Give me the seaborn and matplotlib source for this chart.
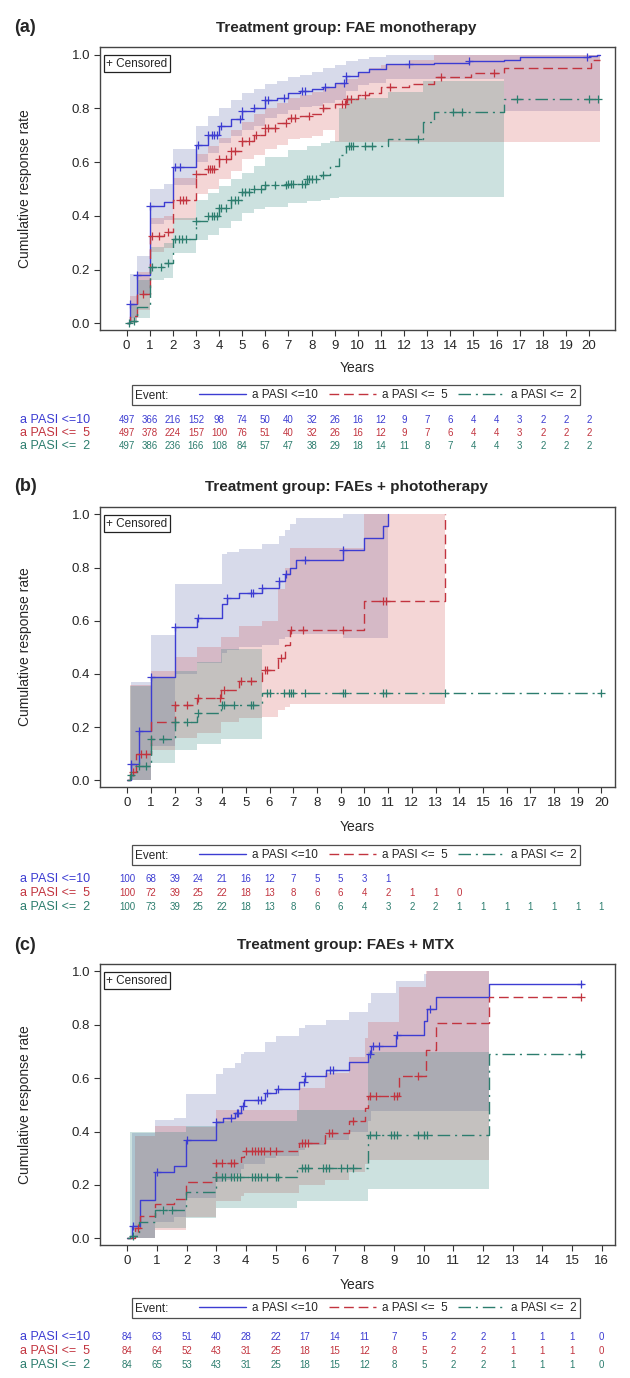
import matplotlib
matplotlib.use("Agg")
import matplotlib.pyplot as plt
import matplotlib.transforms as mtransforms
import matplotlib.text as mtext
from matplotlib.lines import Line2D
import numpy as np
import seaborn as sns

# ---------------- data ----------------
series_names = ["a PASI <=10", "a PASI <=  5", "a PASI <=  2"]
panel_letters = ["(a)", "(b)", "(c)"]
panel_titles = ["Treatment group: FAE monotherapy",
                "Treatment group: FAEs + phototherapy",
                "Treatment group: FAEs + MTX"]

# panel (a) FAE monotherapy
a_blue_t = [0, 0.15, 0.45, 1.0, 1.6, 2.0, 3.0, 3.5, 4.0, 4.5, 5.0, 5.5, 6.0, 6.5, 7.0, 7.5, 8.0, 8.5, 9.0, 9.5,
            10.0, 10.5, 11.2, 13.3, 14.8, 16.3, 17.0, 20.0, 20.35]
a_blue_v = [0, 0.073, 0.18, 0.435, 0.45, 0.58, 0.665, 0.70, 0.735, 0.76, 0.79, 0.80, 0.83, 0.84, 0.855, 0.865,
            0.87, 0.88, 0.895, 0.92, 0.935, 0.945, 0.963, 0.97, 0.975, 0.98, 0.99, 0.995, 1.0]
a_blue_hi = [0, 0.185, 0.25, 0.50, 0.52, 0.65, 0.735, 0.77, 0.80, 0.83, 0.855, 0.87, 0.89, 0.90, 0.915, 0.925,
             0.935, 0.95, 0.96, 0.975, 0.985, 0.99, 1.0, 1.0, 1.0, 1.0, 1.0, 1.0, 1.0]
a_blue_lo = [0, 0.02, 0.11, 0.37, 0.385, 0.515, 0.60, 0.635, 0.67, 0.695, 0.72, 0.735, 0.765, 0.78, 0.795, 0.805,
             0.81, 0.82, 0.83, 0.865, 0.885, 0.895, 0.91, 0.91, 0.91, 0.79, 0.79, 0.79, 0.79]
a_blue_cens = [0.15, 0.45, 1.0, 2.1, 2.3, 3.1, 3.5, 3.7, 3.8, 3.9, 4.1, 4.9, 5.0, 5.5, 6.0, 6.1, 6.8, 7.6, 7.7,
               8.6, 9.4, 9.5, 12.2, 14.8, 19.9]

a_red_t = [0, 0.15, 0.45, 1.0, 1.6, 2.0, 3.0, 3.5, 4.0, 4.5, 5.0, 5.5, 6.0, 6.5, 7.0, 7.5, 8.0, 8.5, 9.0, 9.5,
           10.0, 10.5, 11.0, 12.2, 13.3, 14.9, 16.3, 20.1]
a_red_v = [0, 0.026, 0.108, 0.325, 0.34, 0.46, 0.555, 0.575, 0.61, 0.64, 0.68, 0.70, 0.725, 0.745, 0.765, 0.77,
           0.78, 0.80, 0.815, 0.835, 0.85, 0.855, 0.88, 0.89, 0.915, 0.93, 0.95, 0.98]
a_red_hi = [0, 0.10, 0.19, 0.39, 0.40, 0.54, 0.63, 0.66, 0.69, 0.72, 0.75, 0.78, 0.80, 0.82, 0.84, 0.85,
            0.86, 0.875, 0.89, 0.91, 0.93, 0.95, 0.96, 0.98, 1.0, 1.0, 1.0, 1.0]
a_red_lo = [0, 0.0, 0.05, 0.265, 0.28, 0.385, 0.48, 0.50, 0.535, 0.565, 0.61, 0.625, 0.65, 0.665, 0.685, 0.69,
            0.695, 0.72, 0.675, 0.675, 0.675, 0.675, 0.675, 0.675, 0.675, 0.675, 0.675, 0.675]
a_red_cens = [0.7, 1.1, 1.4, 1.8, 2.3, 2.45, 2.55, 3.0, 3.5, 3.6, 3.7, 3.8, 4.0, 4.3, 4.5, 4.7, 5.0, 5.3, 5.6,
              6.0, 6.1, 6.4, 6.9, 7.1, 7.3, 7.9, 8.5, 9.3, 9.45, 9.55, 9.7, 10.3, 11.4, 13.6, 15.9]

a_teal_t = [0, 0.15, 0.45, 1.0, 1.6, 2.0, 3.0, 3.5, 4.0, 4.5, 5.0, 5.5, 6.0, 7.0, 7.8, 8.4, 8.8, 9.2, 9.5,
            11.3, 12.8, 13.3, 16.3]
a_teal_v = [0, 0.01, 0.06, 0.21, 0.225, 0.315, 0.38, 0.40, 0.43, 0.46, 0.49, 0.50, 0.515, 0.52, 0.535, 0.55,
            0.585, 0.625, 0.66, 0.685, 0.75, 0.785, 0.835]
a_teal_hi = [0, 0.07, 0.16, 0.285, 0.30, 0.39, 0.46, 0.485, 0.51, 0.535, 0.56, 0.585, 0.62, 0.645, 0.66, 0.67,
             0.68, 0.80, 0.84, 0.86, 0.90, 0.90]
a_teal_lo = [0, 0.0, 0.02, 0.16, 0.17, 0.26, 0.31, 0.33, 0.353, 0.38, 0.41, 0.425, 0.434, 0.447, 0.455, 0.46,
             0.465, 0.47, 0.47, 0.47, 0.47, 0.47]
a_teal_cens = [0.1, 0.3, 1.1, 1.5, 1.8, 2.1, 2.25, 2.4, 2.55, 3.0, 3.5, 3.7, 3.8, 3.9, 4.0, 4.1, 4.3, 4.5, 4.7,
               4.8, 5.0, 5.1, 5.3, 5.5, 5.8, 6.0, 6.4, 6.9, 7.0, 7.1, 7.2, 7.6, 7.7, 7.8, 7.9, 8.0, 8.2, 8.5,
               9.6, 9.7, 9.8, 10.3, 10.6, 12.6, 14.1, 14.5, 16.9, 20.0, 20.4]

a_ends = [20.45, 20.45, 20.45]        # last follow-up of each line
a_band_ends = [20.48, 20.48, 16.3]
a_risk_blue = [497, 366, 216, 152, 98, 74, 50, 40, 32, 26, 16, 12, 9, 7, 6, 4, 4, 3, 2, 2, 2]
a_risk_red = [497, 378, 224, 157, 100, 76, 51, 40, 32, 26, 16, 12, 9, 7, 6, 4, 4, 3, 2, 2, 2]
a_risk_teal = [497, 386, 236, 166, 108, 84, 57, 47, 38, 29, 18, 14, 11, 8, 7, 4, 4, 3, 2, 2, 2]

# panel (b) FAEs + phototherapy
b_blue_t = [0, 0.15, 0.49, 1.0, 2.0, 2.93, 3.98, 4.2, 4.7, 5.7, 6.4, 6.65, 6.85, 7.1, 9.1, 10.0, 10.8, 11.0]
b_blue_v = [0, 0.06, 0.185, 0.39, 0.575, 0.61, 0.665, 0.685, 0.705, 0.725, 0.75, 0.775, 0.80, 0.83, 0.865,
            0.91, 0.955, 1.0]
b_blue_hi = [0, 0.37, 0.37, 0.545, 0.74, 0.74, 0.85, 0.857, 0.87, 0.89, 0.92, 0.94, 0.965, 0.985, 1.0, 1.0, 1.0]
b_blue_lo = [0, 0.0, 0.0, 0.13, 0.40, 0.44, 0.48, 0.49, 0.50, 0.51, 0.53, 0.54, 0.55, 0.55, 0.535, 0.535, 0.535]
b_blue_cens = [0.15, 0.5, 1.0, 2.0, 3.0, 4.2, 5.2, 5.3, 5.7, 6.4, 6.7, 7.5, 9.1]

b_red_t = [0, 0.1, 0.35, 1.0, 2.0, 2.95, 3.95, 4.7, 5.7, 6.36, 6.65, 6.85, 10.0, 13.4]
b_red_v = [0, 0.03, 0.10, 0.22, 0.285, 0.31, 0.34, 0.375, 0.415, 0.46, 0.51, 0.565, 0.675, 1.0]
b_red_hi = [0, 0.36, 0.36, 0.41, 0.465, 0.50, 0.54, 0.58, 0.60, 0.72, 0.80, 0.875, 1.0]
b_red_lo = [0, 0.0, 0.0, 0.115, 0.16, 0.178, 0.22, 0.234, 0.24, 0.265, 0.275, 0.286, 0.286]
b_red_cens = [0.25, 0.6, 0.8, 2.0, 2.5, 3.0, 3.9, 4.1, 4.8, 5.2, 5.8, 5.9, 6.5, 6.9, 7.4, 9.1, 10.8, 10.9]

b_teal_t = [0, 0.1, 0.4, 1.0, 2.0, 2.95, 3.95, 5.7]
b_teal_v = [0, 0.02, 0.055, 0.155, 0.22, 0.255, 0.285, 0.33]
b_teal_hi = [0, 0.355, 0.355, 0.39, 0.41, 0.445, 0.495]
b_teal_lo = [0, 0.0, 0.0, 0.066, 0.116, 0.135, 0.157]
b_teal_cens = [0.15, 0.5, 0.8, 1.0, 1.5, 2.0, 2.5, 3.0, 4.0, 4.1, 4.5, 5.2, 5.3, 5.9, 6.0, 6.6, 6.8, 6.9, 7.0,
               7.5, 9.1, 9.2, 10.8, 10.9, 13.4, 20.0]

b_ends = [11.0, 13.4, 20.0]
b_band_ends = [11.0, 13.4, 5.7]
b_risk_blue = [100, 68, 39, 24, 21, 16, 12, 7, 5, 5, 3, 1]
b_risk_red = [100, 72, 39, 25, 22, 18, 13, 8, 6, 6, 4, 2, 1, 1, 0]
b_risk_teal = [100, 73, 39, 25, 22, 18, 13, 8, 6, 6, 4, 3, 2, 2, 1, 1, 1, 1, 1, 1, 1]

# panel (c) FAEs + MTX
c_blue_t = [0, 0.15, 0.42, 0.95, 1.57, 1.98, 3.0, 3.23, 3.64, 3.84, 3.95, 4.65, 5.03, 5.8, 6.0, 6.7, 7.49, 8.12,
            8.23, 9.05, 10.0, 10.12, 10.4, 12.2]
c_blue_v = [0, 0.045, 0.145, 0.25, 0.27, 0.37, 0.435, 0.45, 0.47, 0.495, 0.52, 0.545, 0.56, 0.585, 0.607,
            0.632, 0.66, 0.69, 0.72, 0.763, 0.813, 0.86, 0.906, 0.953]
c_blue_hi = [0, 0.395, 0.395, 0.443, 0.45, 0.54, 0.617, 0.64, 0.657, 0.69, 0.70, 0.735, 0.757, 0.79, 0.80,
             0.82, 0.85, 0.88, 0.92, 0.963, 0.99, 1.0, 1.0]
c_blue_lo = [0, 0.0, 0.0, 0.06, 0.08, 0.15, 0.21, 0.22, 0.24, 0.26, 0.28, 0.30, 0.31, 0.33, 0.35, 0.37, 0.40,
             0.44, 0.476, 0.476, 0.476, 0.476, 0.476]
c_blue_cens = [0.2, 1.0, 2.0, 3.0, 3.5, 3.7, 3.75, 3.9, 4.4, 4.5, 4.7, 5.1, 5.95, 6.0, 6.85, 6.95, 8.2, 8.3,
               8.5, 9.1, 10.2, 15.3]

c_red_t = [0, 0.25, 0.42, 0.95, 1.57, 1.98, 3.0, 3.84, 3.95, 5.8, 6.67, 7.49, 8.03, 8.13, 9.18, 10.06, 10.4, 12.2]
c_red_v = [0, 0.04, 0.085, 0.13, 0.146, 0.21, 0.283, 0.305, 0.327, 0.358, 0.395, 0.44, 0.49, 0.532, 0.61,
           0.707, 0.807, 0.903]
c_red_hi = [0, 0.385, 0.385, 0.42, 0.42, 0.418, 0.48, 0.48, 0.48, 0.564, 0.62, 0.68, 0.75, 0.81, 0.94, 1.0, 1.0]
c_red_lo = [0, 0.0, 0.0, 0.03, 0.03, 0.08, 0.14, 0.16, 0.17, 0.20, 0.22, 0.25, 0.28, 0.295, 0.295, 0.295, 0.295]
c_red_cens = [0.35, 3.0, 3.2, 3.5, 3.6, 4.0, 4.2, 4.3, 4.4, 4.5, 4.6, 4.8, 5.0, 5.9, 6.0, 6.1, 6.8, 6.9, 7.6,
              8.2, 8.4, 9.0, 9.1, 9.8, 15.3]

c_teal_t = [0, 0.1, 0.4, 0.95, 1.98, 3.0, 5.73, 8.12, 12.2]
c_teal_v = [0, 0.01, 0.06, 0.105, 0.173, 0.231, 0.264, 0.387, 0.692]
c_teal_hi = [0, 0.40, 0.40, 0.40, 0.42, 0.44, 0.48, 0.70]
c_teal_lo = [0, 0.0, 0.0, 0.04, 0.077, 0.115, 0.14, 0.183]
c_teal_cens = [0.2, 1.2, 1.5, 3.0, 3.2, 3.3, 3.5, 3.6, 3.7, 3.8, 4.2, 4.3, 4.4, 4.5, 4.7, 5.0, 5.1, 5.9, 6.0,
               6.1, 6.6, 6.7, 6.8, 7.2, 7.4, 7.6, 8.2, 8.4, 8.9, 9.0, 9.1, 9.8, 10.0, 10.1, 15.3]

c_ends = [15.36, 15.36, 15.36]
c_band_ends = [12.2, 12.2, 12.2]
c_risk_blue = [84, 63, 51, 40, 28, 22, 17, 14, 11, 7, 5, 2, 2, 1, 1, 1, 0]
c_risk_red = [84, 64, 52, 43, 31, 25, 18, 15, 12, 8, 5, 2, 2, 1, 1, 1, 0]
c_risk_teal = [84, 65, 53, 43, 31, 25, 18, 15, 12, 8, 5, 2, 2, 1, 1, 1, 0]

# ---------------- style ----------------
sns.set_theme(style="white")
plt.rcParams["font.family"] = ["Liberation Sans", "DejaVu Sans"]
NARROW = ["Liberation Sans Narrow", "Liberation Sans", "DejaVu Sans"]

line_colors = ["#3c3cd2", "#c2343f", "#2c7d6e"]
fill_colors = ["#4a5aa0", "#d04848", "#1a7a70"]
line_styles = ["-", (0, (7, 3.5)), (0, (9, 3.5, 1.5, 3.5))]

fig = plt.figure(figsize=(6.3, 13.78), dpi=100)
H = 1378.0
W = 630.0


def step_value(t, v, x):
    t = np.asarray(t, float)
    idx = np.searchsorted(t, np.asarray(x, float), side="right") - 1
    return np.asarray(v, float)[idx]


class EventHandler:
    # draws the word "Event:" in place of a legend handle
    def legend_artist(self, legend, orig_handle, fontsize, handlebox):
        txt = mtext.Text(0, -0.07 * fontsize, "Event:", fontsize=fontsize, va="baseline", ha="left")
        handlebox.add_artist(txt)
        return txt


class EventKey:
    pass


panels = [
    dict(top=47, bottom=330, title_y=28, xmax=20, xlim=(-1.15, 21.12),
         curves=[(a_blue_t, a_blue_v, a_blue_lo, a_blue_hi, a_blue_cens),
                 (a_red_t, a_red_v, a_red_lo, a_red_hi, a_red_cens),
                 (a_teal_t, a_teal_v, a_teal_lo, a_teal_hi, a_teal_cens)],
         ends=a_ends, band_ends=a_band_ends,
         risk=[a_risk_blue, a_risk_red, a_risk_teal],
         years_y=368, legend_y=395, rows_y=[420, 433, 446]),
    dict(top=507, bottom=787, title_y=487, xmax=20, xlim=(-1.15, 20.57),
         curves=[(b_blue_t, b_blue_v, b_blue_lo, b_blue_hi, b_blue_cens),
                 (b_red_t, b_red_v, b_red_lo, b_red_hi, b_red_cens),
                 (b_teal_t, b_teal_v, b_teal_lo, b_teal_hi, b_teal_cens)],
         ends=b_ends, band_ends=b_band_ends,
         risk=[b_risk_blue, b_risk_red, b_risk_teal],
         years_y=827, legend_y=855, rows_y=[879, 893, 907]),
    dict(top=964, bottom=1245, title_y=945, xmax=16, xlim=(-0.92, 16.45),
         curves=[(c_blue_t, c_blue_v, c_blue_lo, c_blue_hi, c_blue_cens),
                 (c_red_t, c_red_v, c_red_lo, c_red_hi, c_red_cens),
                 (c_teal_t, c_teal_v, c_teal_lo, c_teal_hi, c_teal_cens)],
         ends=c_ends, band_ends=c_band_ends,
         risk=[c_risk_blue, c_risk_red, c_risk_teal],
         years_y=1285, legend_y=1308, rows_y=[1337, 1351, 1365]),
]

for p_i, p in enumerate(panels):
    top, bot = p["top"], p["bottom"]
    ax_h = bot - top
    ax = fig.add_axes([100 / W, 1 - bot / H, 515 / W, ax_h / H])

    # confidence bands first
    for k, (t, v, lo, hi, cens) in enumerate(p["curves"]):
        n = len(hi)
        tb = np.append(np.asarray(t[:n], float), p["band_ends"][k])
        lob = np.append(lo, lo[-1])
        hib = np.append(hi, hi[-1])
        ax.fill_between(tb, lob, hib, step="post", color=fill_colors[k], alpha=0.22, lw=0, zorder=1)

    # step curves and censor marks
    for k, (t, v, lo, hi, cens) in enumerate(p["curves"]):
        tl = np.asarray(t, float)
        vl = np.asarray(v, float)
        if p["ends"][k] > tl[-1]:
            tl = np.append(tl, p["ends"][k])
            vl = np.append(vl, vl[-1])
        sns.lineplot(x=tl, y=vl, ax=ax, color=line_colors[k], lw=1.0, linestyle=line_styles[k],
                     drawstyle="steps-post", estimator=None, sort=False, zorder=3)
        cy = step_value(t, v, cens)
        sns.scatterplot(x=cens, y=cy, ax=ax, marker="+", color=line_colors[k], s=32,
                        linewidth=0.9, zorder=4)

    ax.set_xlim(*p["xlim"])
    ax.set_ylim(-0.025, 1.028)
    ax.set_xticks(range(0, p["xmax"] + 1))
    ax.set_yticks([0.0, 0.2, 0.4, 0.6, 0.8, 1.0])
    ax.set_yticklabels(["0.0", "0.2", "0.4", "0.6", "0.8", "1.0"])
    ax.tick_params(axis="both", which="major", labelsize=9.5, length=4, width=0.8,
                   direction="out", color="#333333", pad=3, bottom=True, left=True)
    for sp in ax.spines.values():
        sp.set_color("#444444")
        sp.set_linewidth(1.0)

    ax.set_xlabel("Years", fontsize=10)
    ax.xaxis.set_label_coords(0.5, (bot - p["years_y"]) / ax_h)
    ax.xaxis.label.set_va("center")
    ax.set_ylabel("Cumulative response rate", fontsize=10)
    ax.yaxis.set_label_coords((25 - 100) / 515, 0.5)
    ax.yaxis.label.set_va("center")

    # censored box
    ax.text(0.012, 0.962, "+ Censored", transform=ax.transAxes, ha="left", va="top", fontsize=8.5,
            bbox=dict(boxstyle="square,pad=0.22", facecolor="white", edgecolor="#222222", lw=0.9),
            zorder=6)

    # titles
    fig.text(346 / W, 1 - p["title_y"] / H, panel_titles[p_i], ha="center", va="center",
             fontsize=11, fontweight="bold")
    fig.text(14 / W, 1 - p["title_y"] / H, panel_letters[p_i], ha="left", va="center",
             fontsize=13, fontweight="bold")

    # legend
    handles = [EventKey()] + [Line2D([], [], color=line_colors[k], lw=1.0, linestyle=line_styles[k])
                              for k in range(3)]
    labels = [""] + series_names
    leg = ax.legend(handles, labels, handler_map={EventKey: EventHandler()}, ncol=4,
                    loc="center", bbox_to_anchor=(0.497, (bot - p["legend_y"]) / ax_h),
                    fontsize=8.5, handlelength=4.0, handletextpad=0.5, columnspacing=0.9,
                    borderpad=0.3, frameon=True, fancybox=False)
    leg.get_frame().set_edgecolor("#222222")
    leg.get_frame().set_linewidth(0.9)

    # numbers at risk
    lab_tr = mtransforms.blended_transform_factory(fig.transFigure, ax.transAxes)
    for k in range(3):
        ry = (bot - p["rows_y"][k]) / ax_h
        ax.text(20 / W, ry, series_names[k], transform=lab_tr, ha="left", va="center",
                fontsize=9, color=line_colors[k])
        for i, n_risk in enumerate(p["risk"][k]):
            ax.text(i, ry, str(n_risk), transform=ax.get_xaxis_transform(), ha="center", va="center",
                    fontsize=7, color=line_colors[k], family=NARROW)

fig.savefig("out.png", dpi=100)
